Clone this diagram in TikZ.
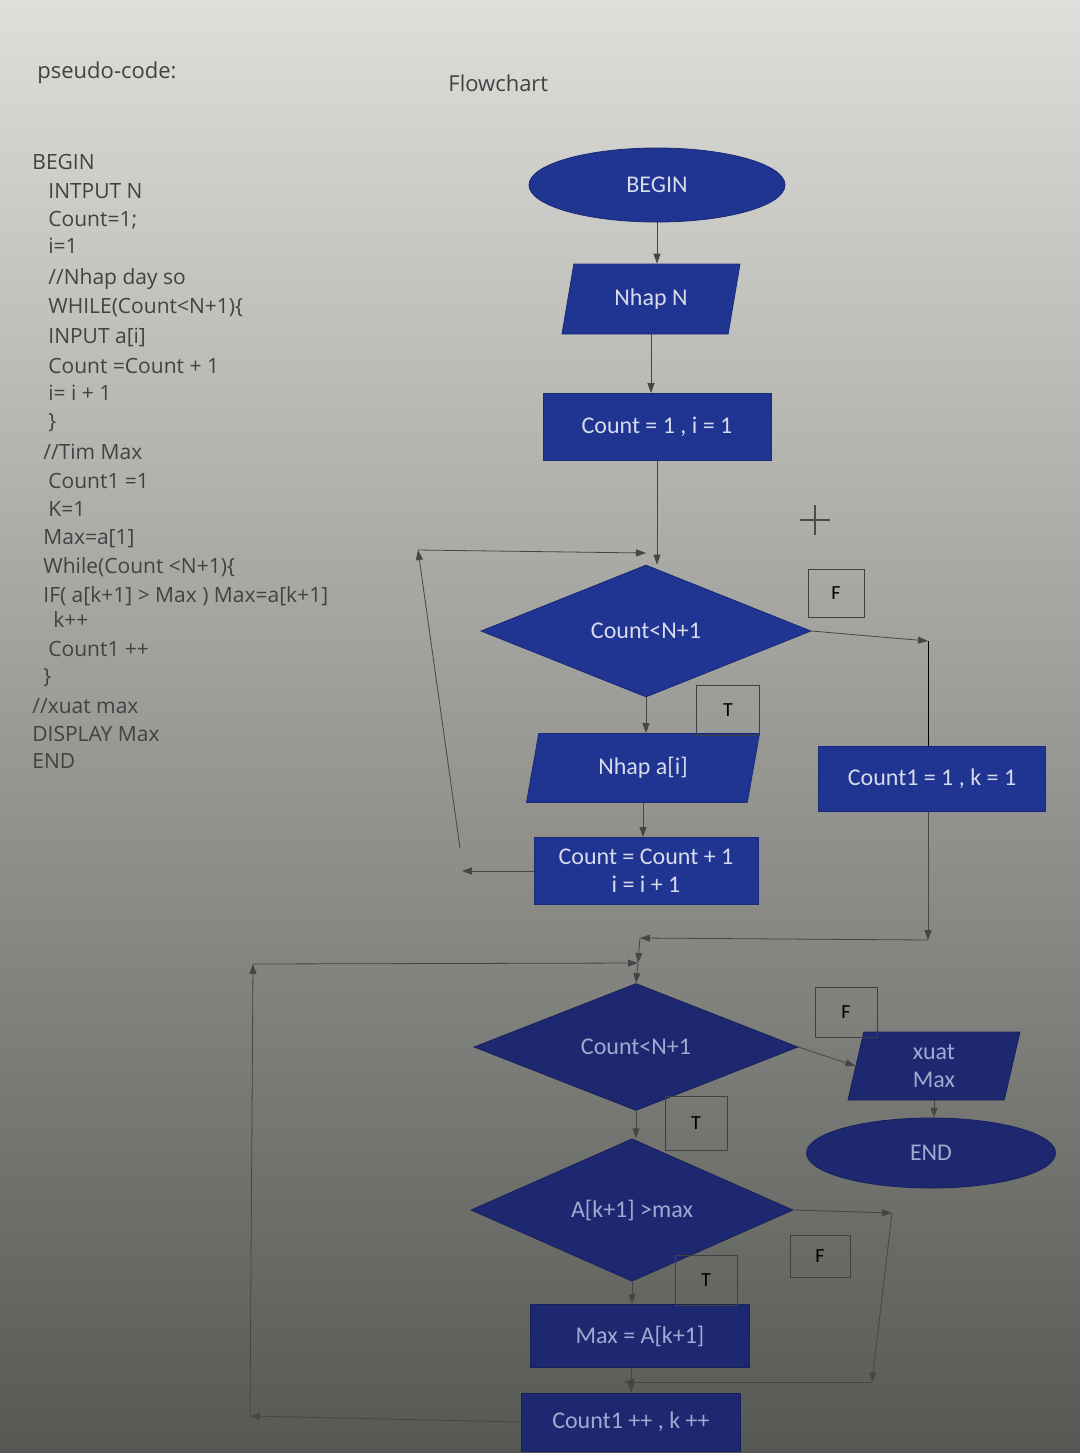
\documentclass[tikz,border=0pt]{standalone}
\usepackage{fontspec}
\setmainfont{Open Sans}
\newfontfamily\chartfont{Carlito}
\usetikzlibrary{arrows.meta,shapes.geometric,positioning}
\definecolor{fcblue}{RGB}{32,52,146}
\definecolor{fcdark}{RGB}{30,40,112}
\definecolor{lowtext}{RGB}{160,170,208}
\definecolor{linegray}{RGB}{70,70,70}
\definecolor{codegray}{RGB}{66,66,66}
\definecolor{bgtop}{RGB}{222,222,218}
\definecolor{bgmid}{RGB}{192,192,187}
\definecolor{bgbot}{RGB}{86,88,83}

\begin{document}
\begin{tikzpicture}[x=0.5pt,y=-0.5pt,
  box/.style={draw=fcblue!80!black, fill=fcblue, text=white!82!fcblue, font=\chartfont\fontsize{12}{14}\selectfont, inner sep=0pt, align=center},
  low/.style={draw=fcdark!80!black, fill=fcdark, text=lowtext},
  proc/.style={box, rectangle},
  term/.style={box, ellipse},
  io/.style={box, trapezium, trapezium left angle=60, trapezium right angle=120, trapezium stretches body},
  test/.style={box, diamond},
  tf/.style={draw=black!75, thin, font=\chartfont\fontsize{10}{12}\selectfont, inner sep=0pt},
  flow/.style={draw=linegray, thin, -{Triangle[length=5pt,width=3.5pt]}},
  code/.style={anchor=west, inner sep=0pt, font=\fontsize{10.5}{12}\selectfont, text=codegray}]
\useasboundingbox (0,0) rectangle (1080,1453);
\shade[top color=bgtop, middle color=bgmid, bottom color=bgbot] (0,0) rectangle (1080,1453);

% headings
\node[code, font=\fontsize{11}{13}\selectfont] (pc) at (37,73) {pseudo-code:};
\node[code, font=\fontsize{11}{13}\selectfont] (fc) at (448,83) {Flowchart};

% pseudo-code, one line per node
\foreach \x/\y/\t [count=\i] in {32/162/BEGIN, 48/191/INTPUT N, 48/220/Count=1;, 48/246/i=1,
    48/279/{//Nhap day so}, 48/308/WHILE(Count<N+1)\{, 48/337/INPUT a[i], 48/366/Count =Count + 1,
    48/393/i= i + 1, 48/423/\}, 43/452/{//Tim Max}, 48/481/Count1 =1, 48/509/K=1, 43/539/Max=a[1],
    43/567/While(Count <N+1)\{, 43/596/IF( a[k+1] > Max )  Max=a[k+1], 53/620/k++, 48/649/Count1 ++,
    43/678/\}, 32/706/{//xuat max}, 32/734/DISPLAY Max, 32/761/END}
  \node[code] (line\i) at (\x,\y) {\t};

% flowchart, first loop
\node[term, minimum width=128pt, minimum height=37pt] (begin) at (657,185) {BEGIN};
\node[io, minimum width=89pt, minimum height=35pt] (inN) at (651,299) {Nhap N};
\node[proc, minimum width=114pt, minimum height=33.5pt] (init) at (657,427) {Count = 1 , i = 1};
\node[test, minimum width=165pt, minimum height=66pt] (cond1) at (646,631) {Count<N+1};
\node[io, minimum width=116.5pt, minimum height=34.5pt] (inA) at (643,768) {Nhap a[i]};
\node[proc, minimum width=112pt, minimum height=33.5pt] (upd) at (646,871) {Count = Count + 1\\i = i + 1};
\node[proc, minimum width=113.5pt, minimum height=32.5pt] (init2) at (932,779) {Count1 = 1 , k = 1};
\node[tf, minimum width=28pt, minimum height=24pt] (f1) at (836,593) {F};
\node[tf, minimum width=31.5pt, minimum height=25pt] (t1) at (728,710) {T};

% flowchart, second loop
\node[test, low, minimum width=162pt, minimum height=63.5pt] (cond2) at (636,1047) {Count<N+1};
\node[io, low, trapezium left angle=70, trapezium right angle=110, minimum width=86pt, minimum height=34pt] (out) at (934,1066) {xuat\\Max};
\node[term, low, minimum width=124.5pt, minimum height=35pt] (stop) at (931,1153) {END};
\node[test, low, minimum width=161pt, minimum height=62pt] (cmp) at (632,1210) {A[k+1] >max};
\node[proc, low, minimum width=109.5pt, minimum height=31.5pt] (setmax) at (640,1336) {Max = A[k+1]};
\node[proc, low, minimum width=109.5pt, minimum height=29pt] (inc) at (631,1422) {Count1 ++ , k ++};
\node[tf, minimum width=31pt, minimum height=25pt] (f2) at (846,1012) {F};
\node[tf, minimum width=31pt, minimum height=27pt] (t2) at (696,1123) {T};
\node[tf, minimum width=30pt, minimum height=21pt] (f3) at (820,1256) {F};
\node[tf, minimum width=31pt, minimum height=25pt] (t3) at (706,1280) {T};

% joints
\coordinate (l1) at (462,871);
\coordinate (l2) at (460,848);
\coordinate (l3) at (418,550);
\coordinate (j1) at (646,553);
\coordinate (r1) at (928,641);
\coordinate (r2) at (928,940);
\coordinate (j2) at (640,938);
\coordinate (j3) at (638,963);
\coordinate (m1) at (250,1416);
\coordinate (m2) at (253,964);
\coordinate (s1) at (892,1213);
\coordinate (s2) at (872,1382);
\coordinate (s3) at (624,1382);

\draw[flow] (begin.south) -- (begin.south |- inN.north);
\draw[flow] (inN.south) -- (inN.south |- init.north);
\draw[flow] (init.south) -- (init.south |- cond1.north);
\draw[flow] (cond1.south) -- (cond1.south |- inA.north);
\draw[flow] (inA.south) -- (inA.south |- upd.north);
\draw[flow] (upd.west) -- (l1);
\draw[flow] (l2) -- (l3);
\draw[flow] (l3) -- (j1);
\draw[flow] (cond1.east) -- (r1);
\draw (r1) -- (r1 |- init2.north);
\draw[flow] (r1 |- init2.south) -- (r2);
\draw[flow] (r2) -- (j2);
\draw[flow] (j2) -- (j3);
\draw[flow] (j3) -- (cond2.north);
\draw[flow] (cond2.east) -- (out.west);
\draw[flow] (out.south) -- (out.south |- stop.north);
\draw[flow] (cond2.south) -- (cond2.south |- cmp.north);
\draw[flow] (cmp.south) -- (cmp.south |- setmax.north);
\draw[flow] (cmp.east) -- (s1);
\draw[flow] (s1) -- (s2);
\draw[flow] (s2) -- (s3);
\draw[flow] (setmax.south -| inc.north) -- (inc.north);
\draw[flow] (inc.west) -- (m1);
\draw[flow] (m1) -- (m2);
\draw[flow] (m2) -- (j3);

% cursor
\draw[black!70, thick] (815,505) -- (815,535) (800,520) -- (830,520);
\end{tikzpicture}
\end{document}
